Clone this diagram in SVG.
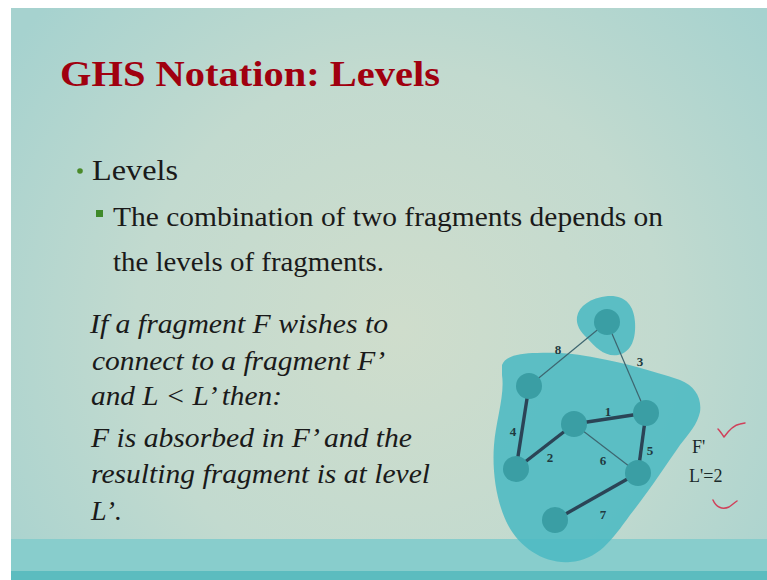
<svg xmlns="http://www.w3.org/2000/svg" width="767" height="580" viewBox="0 0 767 580">
<defs>
<radialGradient id="bg" cx="400" cy="330" r="480" gradientUnits="userSpaceOnUse">
<stop offset="0" stop-color="#cfddcc"/>
<stop offset="0.55" stop-color="#c2dacf"/>
<stop offset="1" stop-color="#a6d2cf"/>
</radialGradient>
<style>
text{font-family:'Liberation Serif','Times New Roman',Tinos,'Nimbus Roman',Times,serif}
.title{font-weight:bold;font-size:36px;fill:#a0000f}
.body{fill:#1a1a1a}
.ital{font-style:italic;font-size:28px;fill:#1a1a1a}
.blob{fill:#4cb9c3;fill-opacity:0.88}
.node{fill:#3a9ea4}
.thin{stroke:#3d6670;stroke-width:1.2;fill:none}
.thick{stroke:#2b4456;stroke-width:3.4;fill:none}
.elab{font-weight:bold;font-size:13px;fill:#1f3a40;text-anchor:middle}
.lab{font-size:18px;fill:#1a2a2a}
.check{stroke:#d0405a;stroke-width:1.5;fill:none;stroke-linecap:round;stroke-linejoin:round}
</style>
</defs>
<rect width="767" height="580" fill="#ffffff"/>
<rect x="11" y="8" width="756" height="572" fill="url(#bg)"/>
<rect x="11" y="539" width="756" height="32" fill="#88cdcc"/>
<rect x="11" y="571" width="756" height="9" fill="#5cbcbf"/>

<text class="title" x="60" y="86" textLength="380" lengthAdjust="spacingAndGlyphs">GHS Notation: Levels</text>

<circle cx="80" cy="171" r="2.8" fill="#4a8a2a"/>
<text class="body" x="92" y="180" font-size="30" textLength="86" lengthAdjust="spacingAndGlyphs">Levels</text>
<rect x="96" y="210" width="7" height="7" fill="#3f8a2a"/>
<text class="body" x="113" y="226" font-size="28" textLength="550" lengthAdjust="spacingAndGlyphs">The combination of two fragments depends on</text>
<text class="body" x="113" y="271" font-size="28" textLength="271" lengthAdjust="spacingAndGlyphs">the levels of fragments.</text>

<text class="ital" x="90" y="333" textLength="298" lengthAdjust="spacingAndGlyphs">If a fragment F wishes to</text>
<text class="ital" x="92" y="370" textLength="293" lengthAdjust="spacingAndGlyphs">connect to a fragment F’</text>
<text class="ital" x="91" y="405" textLength="191" lengthAdjust="spacingAndGlyphs">and L &lt; L’ then:</text>
<text class="ital" x="91" y="447" textLength="321" lengthAdjust="spacingAndGlyphs">F is absorbed in F’ and the</text>
<text class="ital" x="91" y="483" textLength="339" lengthAdjust="spacingAndGlyphs">resulting fragment is at level</text>
<text class="ital" x="91" y="520" textLength="31" lengthAdjust="spacingAndGlyphs">L’.</text>

<g id="fragment-F-prime">
<path class="blob" d="M502,365 C505,356 520,353 537,353 C555,352 575,353 597,358 C620,362 650,370 680,380 C695,386 702,398 700,412 C697,425 690,432 680,445 C668,462 650,490 630,515 C612,540 598,560 570,562 C545,564 520,548 508,525 C496,502 492,470 494,445 C496,420 505,395 502,375 Z"/>
</g>
<g id="fragment-F">
<path class="blob" d="M577,317 C579,306 590,298 608,296 C625,295 634,305 635,322 C636,338 632,352 618,355 C605,357 596,348 587,338 C580,331 576,325 577,317 Z"/>
</g>

<g id="connectors">
<line class="thin" x1="607" y1="322" x2="529" y2="386"/>
<line class="thin" x1="607" y1="322" x2="646" y2="413"/>
<line class="thick" x1="529" y1="386" x2="516" y2="469"/>
<line class="thick" x1="574" y1="424" x2="516" y2="469"/>
<line class="thick" x1="574" y1="424" x2="646" y2="413"/>
<line class="thin" x1="574" y1="424" x2="638" y2="473"/>
<line class="thick" x1="646" y1="413" x2="638" y2="473"/>
<line class="thick" x1="638" y1="473" x2="555" y2="520"/>
<text class="elab" x="558" y="354">8</text>
<text class="elab" x="640" y="366">3</text>
<text class="elab" x="513" y="436">4</text>
<text class="elab" x="550" y="462">2</text>
<text class="elab" x="608" y="416">1</text>
<text class="elab" x="603" y="465">6</text>
<text class="elab" x="650" y="455">5</text>
<text class="elab" x="603" y="519">7</text>
</g>

<g id="n-top"><circle class="node" cx="607" cy="322" r="13"/></g>
<g id="n-a"><circle class="node" cx="529" cy="386" r="13"/></g>
<g id="n-b"><circle class="node" cx="574" cy="424" r="13"/></g>
<g id="n-c"><circle class="node" cx="646" cy="413" r="13"/></g>
<g id="n-d"><circle class="node" cx="516" cy="469" r="13"/></g>
<g id="n-e"><circle class="node" cx="638" cy="473" r="13"/></g>
<g id="n-g"><circle class="node" cx="555" cy="520" r="13"/></g>

<g id="label">
<text class="lab" x="692" y="453">F'</text>
<text class="lab" x="689" y="482">L'=2</text>
</g>
<g id="marks">
<path class="check" d="M718,429 C720,431 722,434 724,437 C729,430 734,425 740,424 L745,423"/>
<path class="check" d="M713,500 C716,507 722,510 729,507 C732,505 734,503 737,501"/>
</g>
</svg>
